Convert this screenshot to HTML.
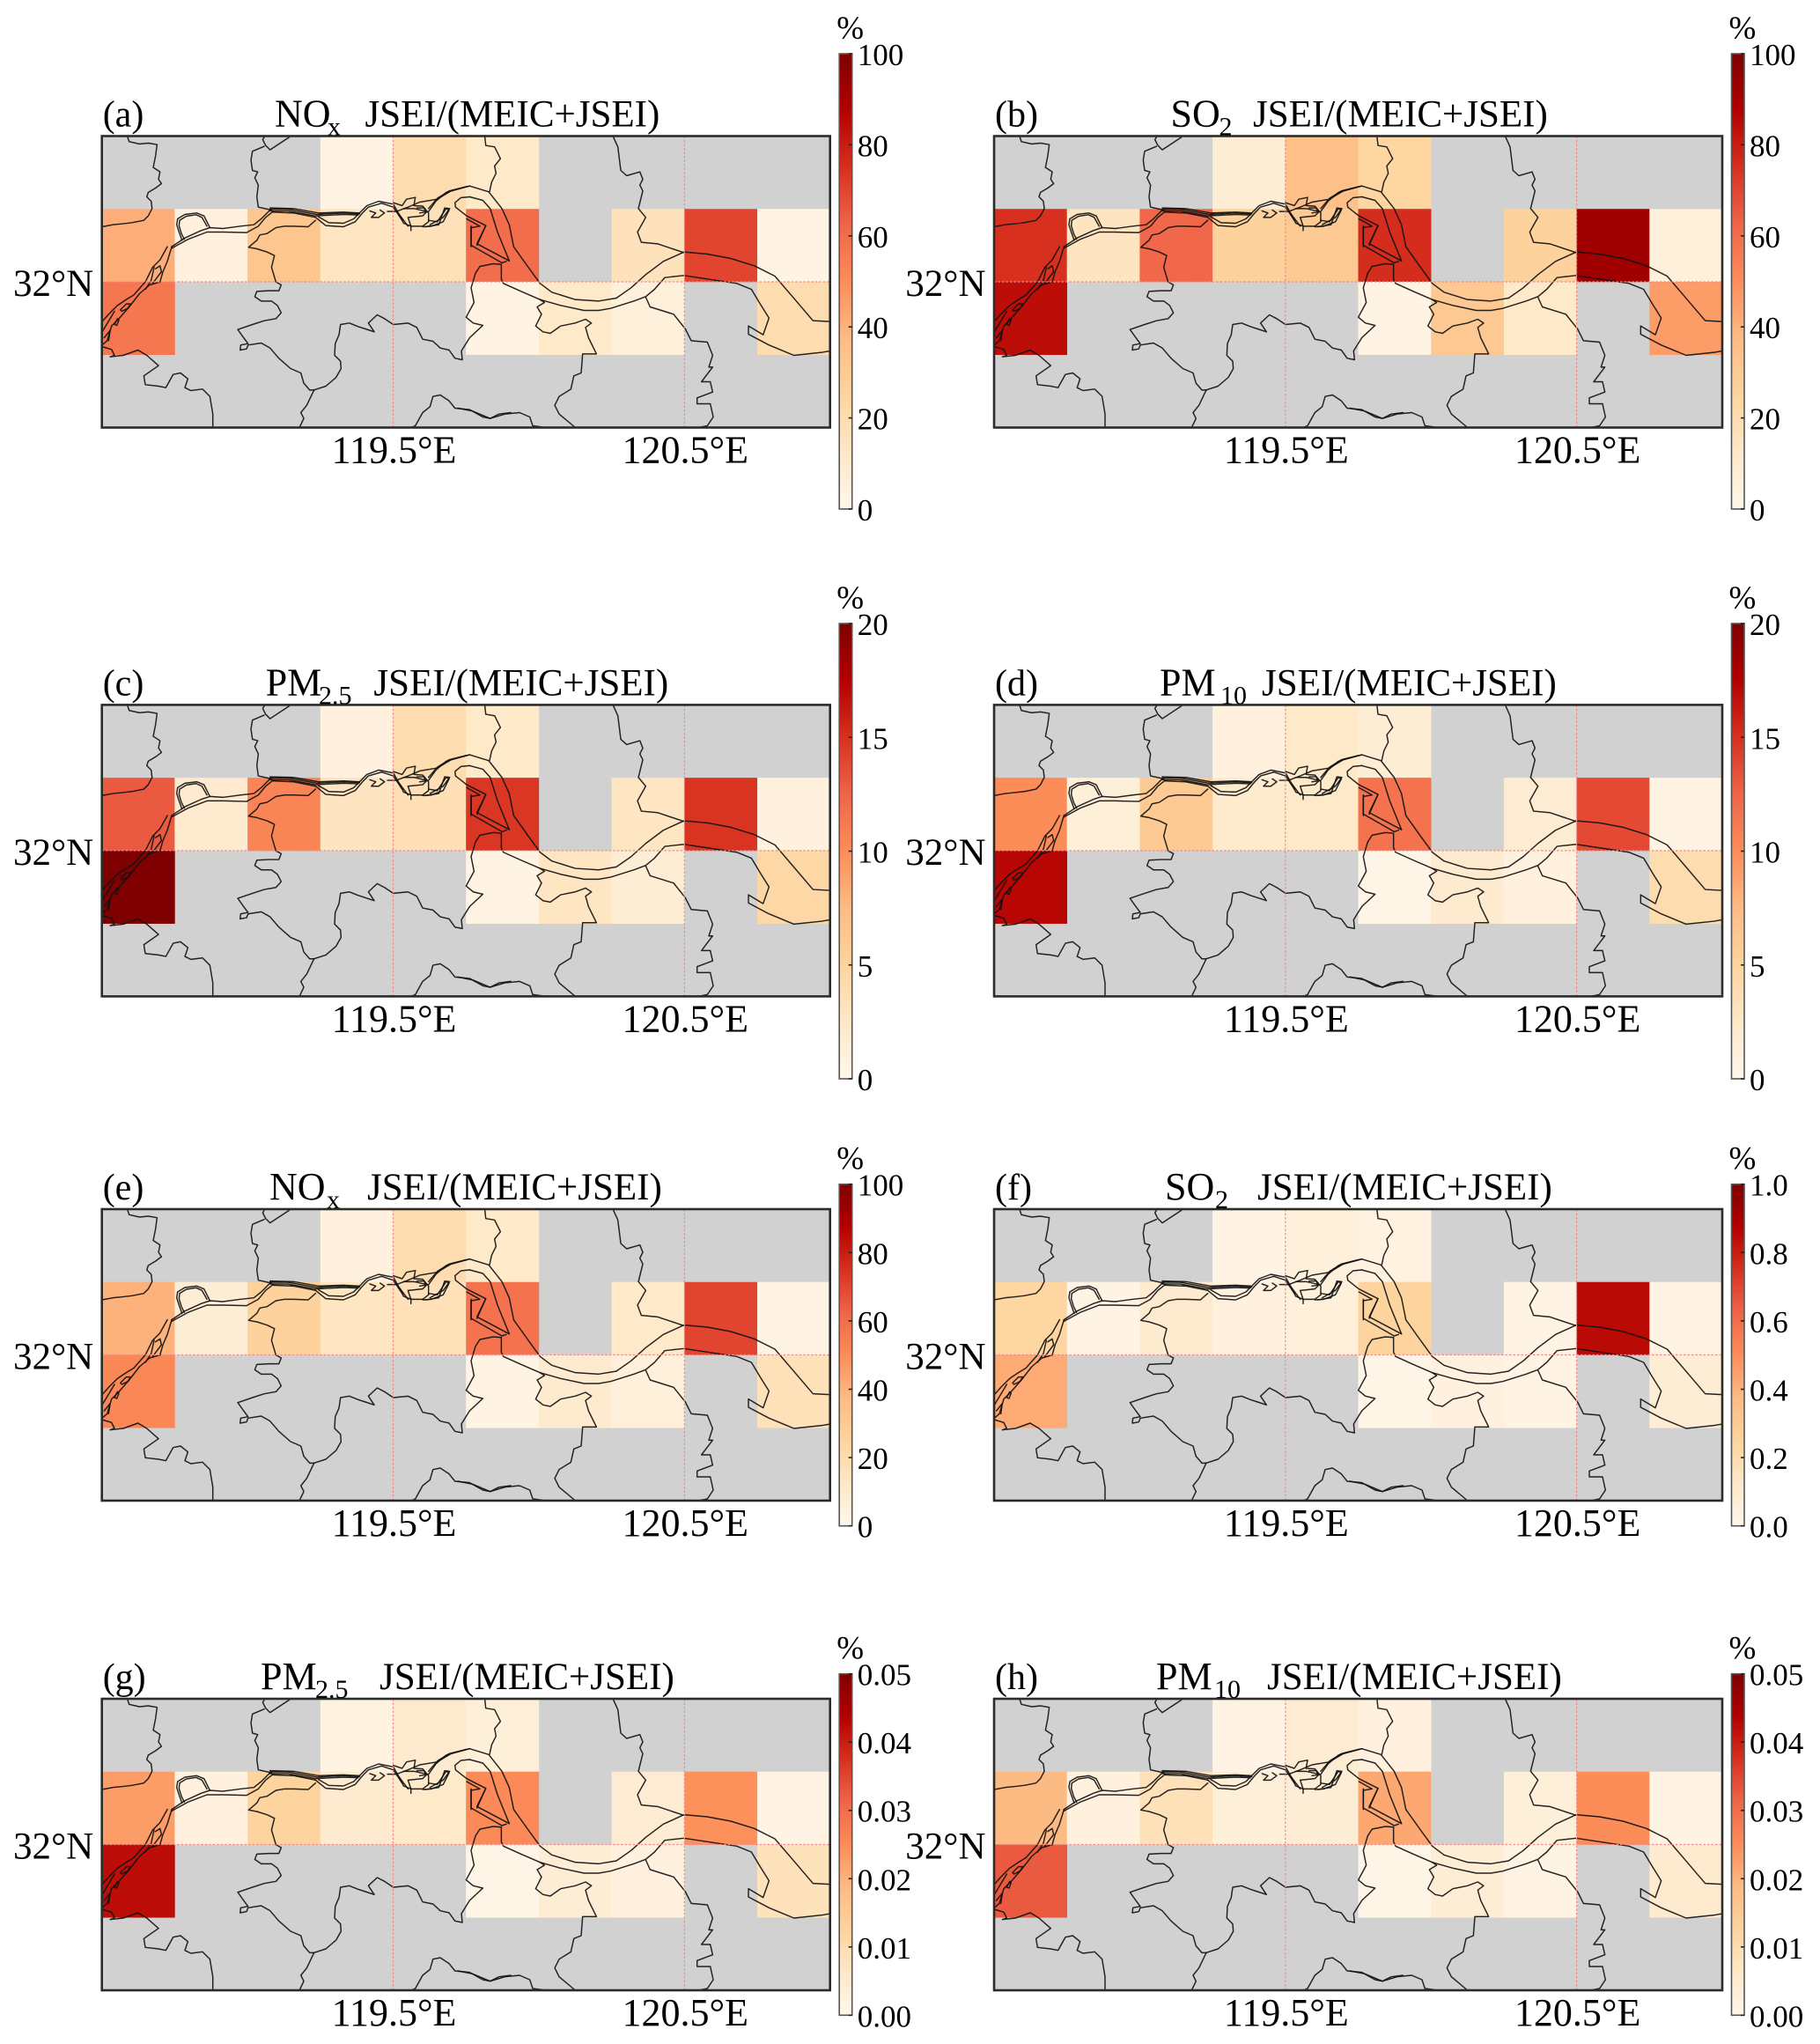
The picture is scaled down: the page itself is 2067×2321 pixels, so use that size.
<!DOCTYPE html>
<html lang="en">
<head>
<meta charset="utf-8">
<title>JSEI/(MEIC+JSEI) emission share maps</title>
<style>
html,body{margin:0;padding:0;background:#fff;}
svg text{font-family:"Liberation Serif",serif;fill:#000;}
</style>
</head>
<body>
<svg id="figure" xmlns="http://www.w3.org/2000/svg" width="2067" height="2321" viewBox="0 0 2067 2321" style="display:block">
<defs>
<linearGradient id="orrd-gradient" x1="0" y1="1" x2="0" y2="0">
<stop offset="0" stop-color="#fff7ec"/><stop offset="0.125" stop-color="#fee8c8"/><stop offset="0.25" stop-color="#fdd49e"/><stop offset="0.375" stop-color="#fdbb84"/><stop offset="0.5" stop-color="#fc8d59"/><stop offset="0.625" stop-color="#ef6548"/><stop offset="0.75" stop-color="#d7301f"/><stop offset="0.875" stop-color="#b30000"/><stop offset="1" stop-color="#7f0000"/>
</linearGradient>
<g id="map-lines" fill="none" stroke="#111" stroke-width="4.4" stroke-linejoin="round" stroke-linecap="round" stroke-opacity="0.92">
<g>
<polyline points="135,47 140,62 175,70 205,67 235,72 230,110 222,150 245,165 240,190 250,205 230,220 205,235 200,250 215,265 218,290 205,315 190,330 150,338 115,342 85,345 47,352"/>
<polyline points="685,47 620,90 605,75 595,55 600,47"/>
<polyline points="600,78 560,95 555,125 560,160 578,165 568,185 580,210 575,250 580,285 625,295"/>
<polyline points="775,330 750,352 700,350 670,350 640,355 610,375 585,380 575,398 547,422 575,427 610,438 635,450 625,490 640,540 658,550 650,570 615,570 575,572 568,590 590,605 625,605 645,620 658,645 640,665 600,672 560,685 510,702 530,730 545,750 520,755 518,772 540,768 545,755 590,748 620,765 650,800 690,835 725,850 735,885 755,908 770,908"/>
<polyline points="770,908 745,960 725,985 735,1005 720,1036"/>
<polyline points="770,908 810,895 845,865 862,835 860,810 840,790 842,750 855,720 860,685 890,680 920,692 945,700 975,710 955,680 985,652 1010,665 1040,685 1090,680 1120,695 1140,735 1175,742 1200,765 1230,772 1250,800 1275,805 1272,775 1300,730 1345,688 1312,680 1288,660 1315,610 1305,560 1320,510 1335,487 1380,478 1405,480"/>
<polyline points="47,760 80,770 90,790 75,795 120,790 170,772 200,790 240,825 190,860 195,890 240,895 265,900 290,855 315,850 340,870 330,900 350,910 390,905 415,930 425,990 425,1036"/>
<polyline points="1100,1036 1115,1030 1140,985 1165,965 1175,930 1200,925 1230,945 1250,970 1300,975 1345,1000 1370,1005 1400,990 1440,985"/>
<polyline points="285,420 330,390 385,365 415,355 460,358 520,350 565,345 590,325 620,295"/>
<polyline points="285,425 340,395 405,370 460,370 540,372 580,350 605,320 630,300"/>
<polyline points="415,355 395,315 370,305 330,310 305,325 302,345 310,370 320,398"/>
<polyline points="405,350 388,320 368,311 335,316 312,330 310,348 318,375 328,395"/>
<polyline points="1160,300 1185,265 1220,235 1300,213"/>
<polyline points="1300,250 1270,253 1250,270 1252,285 1290,315 1355,348 1325,415"/>
<polyline points="1290,325 1335,350 1305,355 1305,420"/>
<polyline points="1165,345 1210,320 1232,290 1215,288 1195,345 1150,352"/>
</g>
<g transform="translate(570,180)">
<polyline points="50,112 110,112 210,130 300,125 355,128"/>
<polyline points="50,118 110,118 205,135 300,130 350,132"/>
<polyline points="50,108 130,110 215,125 300,122 355,125"/>
<polyline points="60,122 130,125 205,140"/>
<polyline points="205,140 240,168 300,172 340,155 365,125 385,105 430,92 470,105 500,150"/>
<polyline points="215,138 250,158 300,160 335,145 360,120 380,100 420,85 470,95 490,130 520,170"/>
<polyline points="390,118 410,125 395,140 420,140 440,125 425,115"/>
<polyline points="470,90 500,100 515,78 545,72 540,100 570,102 590,125 590,155 570,170 530,170 520,140 570,135 585,120 540,110 505,110"/>
<polyline points="490,130 505,160 530,170 530,185"/>
<polyline points="590,150 620,155 650,110 660,115 640,155 600,170 570,172"/>
<polyline points="590,110 620,75 660,50 720,35"/>
<polyline points="550,108 575,108 580,122 560,125"/>
</g>
<g transform="translate(30,450)">
<polyline points="18,225 40,200 70,170 100,150 125,135 165,90 190,40 215,15 240,-30"/>
<polyline points="18,305 35,290 50,240 75,215 110,175 145,130 180,100 215,90 225,55 240,20 255,-30"/>
<polyline points="195,40 185,85 165,115"/>
<polyline points="18,260 45,215 60,190"/>
<polyline points="80,185 100,165 115,165 105,180 85,190 80,185"/>
<polyline points="60,235 70,215 75,220 68,238 60,235"/>
<polyline points="25,280 45,255 40,290"/>
<polyline points="200,45 215,35 220,55 190,95"/>
</g>
<g transform="translate(1260,0)">
<polyline points="-240,300 -210,300 -170,285 -130,268 -70,258 -20,228 40,213 105,233 150,290 175,345 190,420 240,490 280,545 320,575 400,600 480,605 540,595 590,560 640,515 700,470 770,438 850,445 930,460 1010,485 1080,520 1140,590 1210,672 1268,675"/>
<polyline points="40,250 85,262 110,290 135,370 175,468"/>
<polyline points="95,348 65,410 175,468"/>
<polyline points="45,350 45,415 150,475 165,470"/>
<polyline points="148,480 148,530 155,545 215,572 280,600 350,620 430,637 480,637 520,630 600,605 640,590 670,565 705,525 770,518 850,530 950,545 1000,565 1030,615 1060,663 1040,720 990,690 990,718 1060,755 1145,790 1240,780 1268,775"/>
<polyline points="0,970 50,980 110,1005 160,990 210,985 245,1000 255,1030 300,1036"/>
<polyline points="400,1036 375,1015 345,990 330,960 345,930 385,905 395,860 420,850 425,785 472,785 445,730 435,695 455,680 435,667 400,680 350,690 315,715 290,710 265,690 285,650 270,625 295,610 280,600"/>
<polyline points="92,47 95,75 125,80 145,120 125,145 130,170 115,200 108,232"/>
<polyline points="530,47 545,80 555,160 575,178 620,165 630,190 620,210 630,230 615,290 640,320 612,370 625,405 680,410 770,440"/>
<polyline points="640,592 655,625 735,650 775,700 795,740 850,745 868,790 855,830 868,830 830,880 860,880 868,915 815,935 815,955 860,955 870,1000 850,1030 820,1036"/>
</g>
</g>
</defs>
</svg>
<script>
// Grid cell values per panel (row by row, north to south; null = no data), in percent.
const valuesA = [[null,null,null,3,20,12,null,null,null,null],[41,5,32,14,17,60,null,16,70,3],[57,null,null,null,null,3,12,6,null,20],[null,null,null,null,null,null,null,null,null,null]];
const valuesB = [[null,null,null,8,35,24,null,null,null,null],[75,15,62,26,30,76,null,26,92,6],[84,null,null,null,null,3,31,12,null,46],[null,null,null,null,null,null,null,null,null,null]];
const valuesC = [[null,null,null,1,4,2.4,null,null,null,null],[13,2,10.5,3,3.6,14.7,null,2.8,14.8,1],[20,null,null,null,null,0.6,2.8,1.6,null,4.6],[null,null,null,null,null,null,null,null,null,null]];
const valuesD = [[null,null,null,1,2.4,1.6,null,null,null,null],[10,1.4,6,2.2,2.4,11.6,null,1.8,13.8,0.6],[17.2,null,null,null,null,0.4,2,1,null,4],[null,null,null,null,null,null,null,null,null,null]];
const valuesE = [[null,null,null,5,20,12,null,null,null,null],[40,8,26,14,17,58,null,12,70,3],[52,null,null,null,null,3,10,6,null,17],[null,null,null,null,null,null,null,null,null,null]];
const valuesF = [[null,null,null,0.03,0.06,0.04,null,null,null,null],[0.24,0.03,0.1,0.05,0.06,0.25,null,0.03,0.85,0.03],[0.42,null,null,null,null,0.02,0.05,0.03,null,0.08],[null,null,null,null,null,null,null,null,null,null]];
const valuesG = [[null,null,null,0.002,0.005,0.0035,null,null,null,null],[0.023,0.0025,0.0125,0.005,0.006,0.0255,null,0.0045,0.0245,0.0015],[0.042,null,null,null,null,0.001,0.004,0.0025,null,0.008],[null,null,null,null,null,null,null,null,null,null]];
const valuesH = [[null,null,null,0.0015,0.0045,0.0025,null,null,null,null],[0.0188,0.0025,0.0085,0.0035,0.004,0.0215,null,0.0035,0.025,0.0015],[0.0325,null,null,null,null,0.001,0.004,0.0015,null,0.005],[null,null,null,null,null,null,null,null,null,null]];

// Colorbar tick labels.
const ticks100 = ['0','20','40','60','80','100'];
const ticks20 = ['0','5','10','15','20'];
const ticks1 = ['0.0','0.2','0.4','0.6','0.8','1.0'];
const ticks005 = ['0.00','0.01','0.02','0.03','0.04','0.05'];

// Longitude axis labels and the grid column they sit on.
const lonLabels = ['119.5°E','120.5°E'];
const lonColumns = [4,8];
const latLabel = '32°N';
const titleSuffix = 'JSEI/(MEIC+JSEI)';

const panelLetters = ['a','b','c','d','e','f','g','h'];
const panelSpecies = ['NO','SO','PM','PM','NO','SO','PM','PM'];
const panelSubs = ['x','2','2.5','10','x','2','2.5','10'];
const panelValues = [valuesA,valuesB,valuesC,valuesD,valuesE,valuesF,valuesG,valuesH];
const panelTicks = [ticks100,ticks100,ticks20,ticks20,ticks100,ticks1,ticks005,ticks005];

const NS = 'http://www.w3.org/2000/svg';
const fig = document.getElementById('figure');
const colTop = [154.5,800.4,1373,1929];
const cbTops = [61,708,1344.7,1900.7];
const cbBottoms = [578,1225,1732.7,2288.3];
const colLeft = [115.7,1129];
const FRAME_W = 827, FRAME_H = 331, NCOL = 10, NROW = 4;
const speciesX = [312,1329.5,301.7,1317,306,1323,296,1313];
const subX = [372,1384.5,362,1386,371,1380,358,1379];
const suffixX = [414.5,1423,424.4,1433,417,1428,431,1439];
const stops = [[255,247,236],[254,232,200],[253,212,158],[253,187,132],[252,141,89],[239,101,72],[215,48,31],[179,0,0],[127,0,0]];

function orRd(t){
  t = Math.max(0,Math.min(1,t));
  const p = t*(stops.length-1), i = Math.min(stops.length-2,Math.floor(p)), f = p-i;
  const c = stops[i].map((s,k)=>Math.round(s+(stops[i+1][k]-s)*f));
  return 'rgb('+c.join(',')+')';
}
function mk(tag,attrs,parent,text){
  const e = document.createElementNS(NS,tag);
  for(const k in attrs) e.setAttribute(k,attrs[k]);
  if(text!==undefined) e.textContent = text;
  parent.appendChild(e);
  return e;
}

panelLetters.forEach((letter,idx)=>{
  const row = Math.floor(idx/2), col = idx%2;
  const L = colLeft[col], T = colTop[row];
  const cw = FRAME_W/NCOL, ch = FRAME_H/NROW;
  const xAt = c => L + c*cw;
  const yAt = r => T + r*ch;
  const labels = panelTicks[idx];
  const vmax = Number(labels[labels.length-1]);

  const g = mk('g',{},fig);
  
  

  const bg = mk('rect',{x:L,y:T,width:FRAME_W,height:FRAME_H,fill:'#d1d1d1'},g);
  
  

  panelValues[idx].forEach((rowVals,r)=>{
    rowVals.forEach((v,c)=>{
      if(v===null) return;
      const cell = mk('rect',{x:xAt(c),y:yAt(r),width:cw+0.3,height:ch+0.3,fill:orRd(v/vmax)},g);
      
      
    });
  });

  const nested = mk('svg',{x:L,y:T,width:FRAME_W,height:FRAME_H,viewBox:'47 43 2481 993'},g);
  
  
  mk('use',{href:'#map-lines'},nested);

  lonColumns.forEach((c,i)=>{
    const gl = mk('line',{x1:xAt(c),x2:xAt(c),y1:T,y2:T+FRAME_H,stroke:'#f08a8a','stroke-width':1.2,'stroke-dasharray':'2.5 2'},g);
    
    
    const tl = mk('text',{x:xAt(c)+1,y:T+FRAME_H+40,'font-size':44,'text-anchor':'middle'},g,lonLabels[i]);
    
    
  });

  const hl = mk('line',{x1:L,x2:L+FRAME_W,y1:yAt(2),y2:yAt(2),stroke:'#f08a8a','stroke-width':1.2,'stroke-dasharray':'2.5 2'},g);
  
  

  const lat = mk('text',{x:L-9.5,y:T+181.5,'font-size':43,'text-anchor':'end'},g,latLabel);
  
  

  const frame = mk('rect',{x:L,y:T,width:FRAME_W,height:FRAME_H,fill:'none',stroke:'#2b2b2b','stroke-width':2.6},g);
  
  

  const tag = mk('text',{x:L+1,y:T-11,'font-size':42},g,'('+letter+')');
  
  

  const sp = mk('text',{x:speciesX[idx],y:T-11,'font-size':44},g,panelSpecies[idx]);
  
  
  const sb = mk('text',{x:subX[idx],y:T-1,'font-size':30},g,panelSubs[idx]);
  
  
  const sf = mk('text',{x:suffixX[idx],y:T-11,'font-size':43},g,titleSuffix);
  
  

  // Colorbar
  const cbL = L + FRAME_W + 10.5, cbW = 14.5;
  const cbT = cbTops[row], cbB = cbBottoms[row];
  const yVal = v => cbB - (v/vmax)*(cbB-cbT);
  const bar = mk('rect',{x:cbL,y:cbT,width:cbW,height:cbB-cbT,fill:'url(#orrd-gradient)',stroke:'#555','stroke-width':1.6},g);
  
  
  labels.forEach(lbl=>{
    const v = Number(lbl), y = yVal(v);
    const tk = mk('line',{x1:cbL+cbW-4,x2:cbL+cbW,y1:y,y2:y,stroke:'#222','stroke-width':1.6},g);
    
    
    const tx = mk('text',{x:cbL+cbW+6,y:y+13,'font-size':35},g,lbl);
    
    
  });
  const unit = mk('text',{x:cbL-3,y:cbT-17,'font-size':37},g,'%');
  
  
});
</script>
</body>
</html>
